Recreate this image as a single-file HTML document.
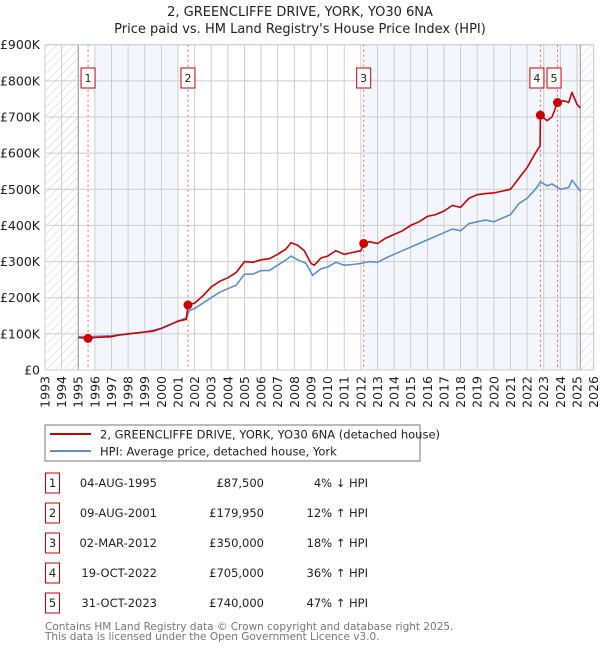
<!DOCTYPE html>
<html><head><meta charset="utf-8">
<style>
body{margin:0;background:#fff;font-family:"Liberation Sans","DejaVu Sans",sans-serif;}
#wrap{position:relative;width:600px;height:650px;overflow:hidden;}
svg text{font-family:"DejaVu Sans","Liberation Sans",sans-serif;}
</style></head>
<body>
<div id="wrap">
<svg id="chart" width="600" height="650">
<defs>
<pattern id="hatch" width="6" height="6" patternUnits="userSpaceOnUse" patternTransform="rotate(45)">
<line x1="0" y1="0" x2="0" y2="6" stroke="#ccc" stroke-width="1"/>
</pattern>
</defs>
<text x="300" y="16" text-anchor="middle" font-size="13" fill="#222">2, GREENCLIFFE DRIVE, YORK, YO30 6NA</text>
<text x="300" y="33" text-anchor="middle" font-size="13" fill="#222">Price paid vs. HM Land Registry's House Price Index (HPI)</text>
<g id="plot"></g>
<rect x="45" y="425" width="375" height="36" fill="#fff" stroke="#777" stroke-width="1"/>
<line x1="50" y1="434" x2="91" y2="434" stroke="#cc0000" stroke-width="2"/>
<text x="100" y="438.5" font-size="11.5" fill="#222">2, GREENCLIFFE DRIVE, YORK, YO30 6NA (detached house)</text>
<line x1="50" y1="451" x2="91" y2="451" stroke="#5b8fd0" stroke-width="2"/>
<text x="100" y="455.5" font-size="11.5" fill="#222">HPI: Average price, detached house, York</text>
<g id="table"></g>
<text x="45" y="630" font-size="10.5" fill="#777">Contains HM Land Registry data © Crown copyright and database right 2025.</text>
<text x="45" y="640" font-size="10.5" fill="#777">This data is licensed under the Open Government Licence v3.0.</text>
</svg>
</div>
<script>
const yearTicks=[1993,1994,1995,1996,1997,1998,1999,2000,2001,2002,2003,2004,2005,2006,2007,2008,2009,2010,2011,2012,2013,2014,2015,2016,2017,2018,2019,2020,2021,2022,2023,2024,2025,2026];
const priceTicks=[0,100,200,300,400,500,600,700,800,900];
const priceTickLabels=["£0","£100K","£200K","£300K","£400K","£500K","£600K","£700K","£800K","£900K"];
const redT=[1995.0,1995.59,1996,1997,1997.5,1998,1999,1999.5,2000,2000.5,2001,2001.5,2001.6,2002,2002.5,2003,2003.5,2004,2004.5,2005,2005.5,2006,2006.5,2007,2007.5,2007.8,2008.2,2008.6,2009,2009.2,2009.6,2010,2010.5,2011,2011.5,2012,2012.17,2012.5,2013,2013.5,2014,2014.5,2015,2015.5,2016,2016.5,2017,2017.5,2018,2018.5,2019,2019.5,2020,2020.5,2021,2021.5,2022,2022.5,2022.78,2022.8,2023.2,2023.5,2023.83,2024.2,2024.5,2024.7,2025.0,2025.2];
const redV=[90,87.5,90,92,97,100,105,107,115,125,135,140,180,185,205,230,245,255,270,300,298,305,308,320,335,352,345,330,295,290,310,315,330,320,325,330,350,355,350,365,375,385,400,410,425,430,440,455,450,475,485,488,490,495,500,530,560,600,620,705,690,700,740,745,740,768,735,725];
const hpiT=[1995,1996,1997,1998,1999,2000,2001,2001.5,2001.7,2002,2003,2003.5,2004,2004.5,2005,2005.5,2006,2006.5,2007,2007.5,2007.8,2008.2,2008.7,2009.1,2009.6,2010,2010.5,2011,2011.5,2012,2012.5,2013,2013.5,2014,2014.5,2015,2015.5,2016,2016.5,2017,2017.5,2018,2018.5,2019,2019.5,2020,2020.5,2021,2021.5,2022,2022.5,2022.8,2023.2,2023.5,2024,2024.5,2024.7,2025.2];
const hpiV=[92,93,95,100,105,115,135,145,165,170,200,215,225,235,265,265,275,275,290,305,315,305,295,262,280,285,298,290,292,295,300,298,310,320,330,340,350,360,370,380,390,385,405,410,415,410,420,430,460,475,500,520,510,515,500,505,525,495];
const saleLabels=["1","2","3","4","5"];
const saleT=[1995.59,2001.6,2012.17,2022.8,2023.83];
const saleV=[87.5,179.95,350,705,740];
const saleDates=["04-AUG-1995","09-AUG-2001","02-MAR-2012","19-OCT-2022","31-OCT-2023"];
const salePrices=["£87,500","£179,950","£350,000","£705,000","£740,000"];
const saleHpi=["4% ↓ HPI","12% ↑ HPI","18% ↑ HPI","36% ↑ HPI","47% ↑ HPI"];

const NS="http://www.w3.org/2000/svg";
const X0=45,X1=593.6,Y0=370,Y1=44.7;
const xs=t=>X0+(t-1993)/(2026-1993)*(X1-X0);
const ys=v=>Y0-(v/900)*(Y0-Y1);
const plot=document.getElementById('plot');
function mk(tag,attrs,parent){const e=document.createElementNS(NS,tag);for(const k in attrs)e.setAttribute(k,attrs[k]);(parent||plot).appendChild(e);return e;}

let e;
e=mk('rect',{x:xs(1996),y:Y1,width:xs(2001)-xs(1996),height:Y0-Y1,fill:'#eef3fc',opacity:0.7});


e=mk('rect',{x:xs(2012.17),y:Y1,width:xs(2025.2)-xs(2012.17),height:Y0-Y1,fill:'#eef3fc',opacity:0.7});


e=mk('rect',{x:X0,y:Y1,width:xs(1995)-X0,height:Y0-Y1,fill:'url(#hatch)'});


e=mk('rect',{x:xs(2025.2),y:Y1,width:X1-xs(2025.2),height:Y0-Y1,fill:'url(#hatch)'});



yearTicks.forEach((yr,i)=>{
  const g=mk('line',{x1:xs(yr),x2:xs(yr),y1:Y1,y2:Y0,stroke:'#ccc','stroke-width':1});
  
  
  const t=mk('text',{x:0,y:0,'font-size':12.5,fill:'#222','text-anchor':'end',transform:`translate(${xs(yr)+4.5},376) rotate(-90)`});
  t.textContent=yr;
  
  
});
priceTicks.forEach((v,i)=>{
  const g=mk('line',{x1:X0,x2:X1,y1:ys(v),y2:ys(v),stroke:'#ccc','stroke-width':1});
  
  
  const t=mk('text',{x:40,y:ys(v)+4.5,'font-size':12.5,fill:'#222','text-anchor':'end'});
  t.textContent=priceTickLabels[i];
  
  
});
e=mk('line',{x1:xs(1995),x2:xs(1995),y1:Y1,y2:Y0,stroke:'#999','stroke-width':1});


e=mk('line',{x1:xs(2025.2),x2:xs(2025.2),y1:Y1,y2:Y0,stroke:'#999','stroke-width':1});



saleT.forEach((t,i)=>{
  const l=mk('line',{x1:xs(t),x2:xs(t),y1:Y1,y2:Y0,stroke:'#f06060','stroke-width':1,'stroke-dasharray':'2,3'});
  
  
  const bx=xs(t)-(i===3?10.5:(i===4?10.5:7));
  const r=mk('rect',{x:bx,y:68,width:14,height:20,fill:'#fff',stroke:'#cc0000','stroke-width':1});
  
  
  const tx=mk('text',{x:bx+7,y:82,'font-size':11,fill:'#222','text-anchor':'middle'});
  tx.textContent=saleLabels[i];
  
  
});

function path(T,V){return T.map((t,i)=>(i?'L':'M')+xs(t).toFixed(1)+','+ys(V[i]).toFixed(1)).join('');}
e=mk('path',{d:path(hpiT,hpiV),fill:'none',stroke:'#5b8fd0','stroke-width':1.6,'stroke-linejoin':'round'});


e=mk('path',{d:path(redT,redV),fill:'none',stroke:'#cc0000','stroke-width':1.6,'stroke-linejoin':'round'});


saleT.forEach((t,i)=>{
  const c=mk('circle',{cx:xs(t),cy:ys(saleV[i]),r:4.5,fill:'#cc0000'});
  
  
});
e=mk('rect',{x:X0,y:Y1,width:X1-X0,height:Y0-Y1,fill:'none',stroke:'#ccc','stroke-width':1});



const tbl=document.getElementById('table');
saleLabels.forEach((lab,i)=>{
  const cy=483+i*30;
  const r=mk('rect',{x:45.5,y:cy-10,width:14,height:20,fill:'#fff',stroke:'#cc0000','stroke-width':1},tbl);
  
  
  const cells=[[52.5,'middle',lab],[157,'end',saleDates[i]],[264,'end',salePrices[i]],[368,'end',saleHpi[i]]];
  cells.forEach((c,j)=>{
    const tx=mk('text',{x:c[0],y:cy+4,'font-size':11.5,fill:'#222','text-anchor':c[1]},tbl);
    tx.textContent=c[2];
    
    
  });
});
</script>
</body></html>
